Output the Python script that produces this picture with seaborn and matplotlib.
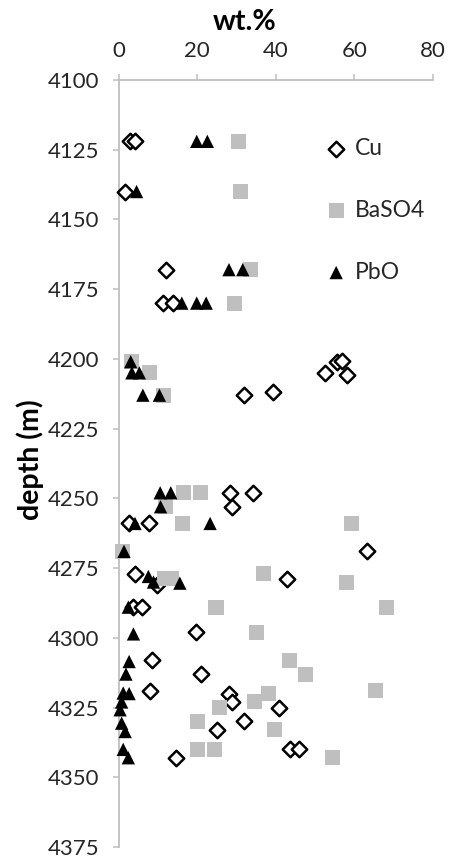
import matplotlib
matplotlib.use("Agg")
import matplotlib.pyplot as plt
import seaborn as sns
import pandas as pd

# Copper (wt.%) and sample depth (m)
cu_wt = [2.9, 4.2, 1.6, 12.0, 11.2, 13.8, 52.5, 55.7, 56.8, 58.1, 31.8, 39.2,
         28.4, 34.1, 28.8, 2.7, 7.8, 63.3, 4.2, 9.7, 42.8, 3.7, 5.9, 19.7,
         8.6, 20.9, 8.0, 28.2, 28.8, 40.7, 31.8, 25.0, 43.6, 45.8, 14.6]
cu_depth = [4122, 4122, 4140, 4168, 4180, 4180, 4205, 4201, 4200.6, 4205.7, 4213, 4212,
            4248, 4248, 4253, 4259, 4259, 4269, 4277, 4281, 4279, 4289, 4289, 4298,
            4308, 4313, 4319, 4320, 4323, 4325, 4330, 4333, 4340, 4340, 4343]

# Barite (wt.%) and sample depth (m)
ba_wt = [30.5, 31.1, 33.6, 29.4, 3.4, 8.0, 11.4, 16.5, 20.8, 12.0, 16.3, 59.3,
         1.1, 11.8, 13.6, 37.0, 57.9, 24.8, 68.1, 35.0, 43.6, 47.5, 65.3, 38.1,
         34.5, 25.6, 20.0, 39.6, 20.0, 24.3, 54.5]
ba_depth = [4122, 4140, 4168, 4180, 4201, 4205, 4213, 4248, 4248, 4253, 4259, 4259,
            4269, 4278.6, 4278.6, 4277, 4280, 4289, 4289, 4298, 4308, 4313, 4319, 4320,
            4323, 4325, 4330, 4333, 4340, 4340, 4343]

# Lead oxide (wt.%) and sample depth (m)
pb_wt = [19.9, 22.6, 4.6, 28.1, 31.6, 16.1, 19.9, 22.3, 3.1, 3.4, 5.3, 6.2,
         10.4, 10.6, 13.3, 10.7, 4.2, 23.3, 1.4, 7.6, 8.9, 15.6, 2.5, 3.8,
         2.7, 1.9, 1.2, 2.7, 0.8, 0.4, 0.8, 1.7, 1.2, 2.5]
pb_depth = [4122, 4122, 4140, 4168, 4168, 4180, 4180, 4180, 4201, 4205, 4205, 4213,
            4213, 4248, 4248, 4253, 4259, 4259, 4269, 4278, 4280, 4280.4, 4289, 4298.6,
            4308.5, 4313, 4319.8, 4320, 4323, 4325.8, 4330.6, 4333.6, 4340, 4343]

x_ticks = [0, 20, 40, 60, 80]
y_ticks = [4100, 4125, 4150, 4175, 4200, 4225, 4250, 4275, 4300, 4325, 4350, 4375]

sns.set_theme(style="white")
plt.rcParams["font.family"] = ["Lato", "DejaVu Sans"]

AXIS_GREY = "#bfbfbf"
TEXT = "#262626"

fig = plt.figure(figsize=(4.65, 8.59), dpi=100)
ax = fig.add_axes([118.5 / 465, 12 / 859, (433 - 118.5) / 465, (847 - 80) / 859])

cu = pd.DataFrame({"wt": cu_wt, "depth": cu_depth})
ba = pd.DataFrame({"wt": ba_wt, "depth": ba_depth})
pb = pd.DataFrame({"wt": pb_wt, "depth": pb_depth})

sns.scatterplot(data=cu, x="wt", y="depth", ax=ax, marker="D", s=62,
                color="white", edgecolor="black", linewidth=1.8,
                label="Cu", clip_on=False, zorder=3)
sns.scatterplot(data=ba, x="wt", y="depth", ax=ax, marker="s", s=117,
                color=AXIS_GREY, edgecolor="none", linewidth=0,
                label="BaSO4", clip_on=False, zorder=3)
sns.scatterplot(data=pb, x="wt", y="depth", ax=ax, marker="^", s=92,
                color="black", edgecolor="none", linewidth=0,
                label="PbO", clip_on=False, zorder=3)

ax.set_xlim(0, 80)
ax.set_ylim(4375, 4100)
ax.set_xticks(x_ticks)
ax.set_yticks(y_ticks)
ax.xaxis.tick_top()
ax.xaxis.set_label_position("top")

for side in ("right", "bottom"):
    ax.spines[side].set_visible(False)
for side in ("top", "left"):
    ax.spines[side].set_color(AXIS_GREY)
    ax.spines[side].set_linewidth(1.3)

ax.tick_params(axis="both", which="major", direction="out", length=4.5,
               width=1.1, color=AXIS_GREY, labelsize=16, labelcolor=TEXT, pad=9.5)
ax.tick_params(axis="x", top=True, bottom=False)
ax.tick_params(axis="y", left=True, right=False)
ax.grid(False)

ax.set_xlabel("wt.%", fontsize=20.5, fontweight="bold", color="black", va="center")
ax.xaxis.set_label_coords((245 - 118.5) / 314.5, (847 - 22) / 767)
ax.set_ylabel("depth (m)", fontsize=20.5, fontweight="bold", color="black",
              va="center", ha="center")
ax.yaxis.set_label_coords((30 - 118.5) / 314.5, (847 - 460) / 767)

handles, labels = ax.get_legend_handles_labels()
ax.legend(handles, labels, loc="upper left",
          bbox_to_anchor=((327 - 118.5) / 314.5, 1 - (138 - 80) / 767),
          frameon=False, fontsize=16.5, handlelength=0.8, handletextpad=0.4,
          labelspacing=1.78, borderpad=0, borderaxespad=0, labelcolor=TEXT)

fig.savefig("out.png", dpi=100)
